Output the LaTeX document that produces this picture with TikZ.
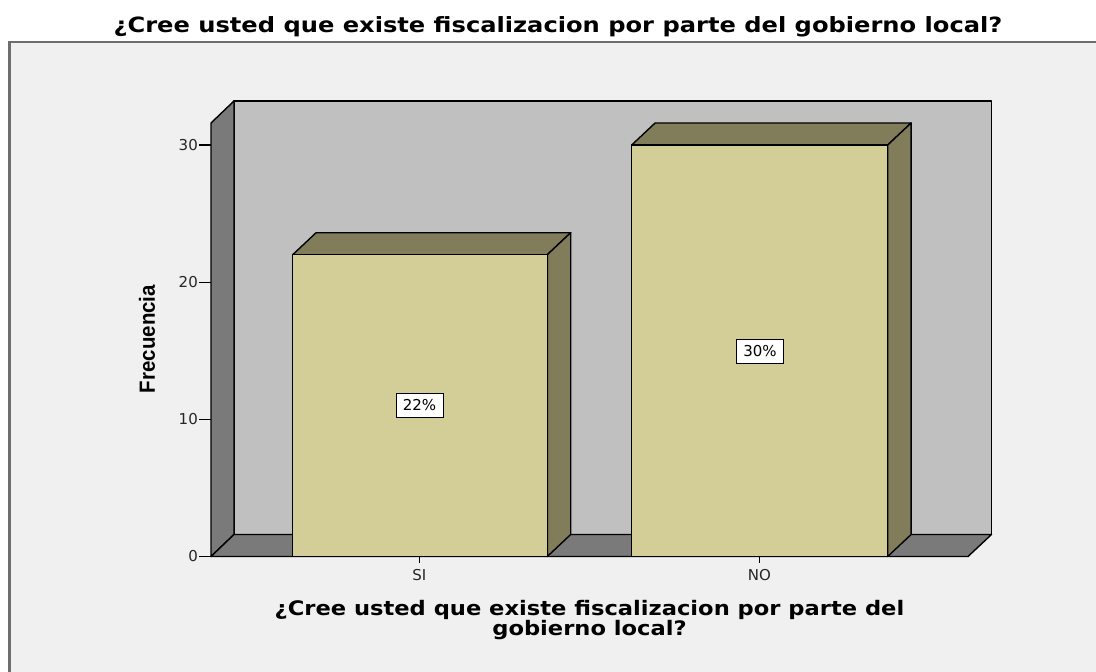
\documentclass[tikz,border=0pt]{standalone}
\usepackage{fontspec}
\setmainfont{DejaVu Sans}
\newfontfamily\arialfont{Liberation Sans}
\usetikzlibrary{calc}
\definecolor{panelbg}{RGB}{240,240,240}
\definecolor{framecol}{RGB}{110,110,110}
\definecolor{wallback}{RGB}{192,192,192}
\definecolor{walldark}{RGB}{122,122,122}
\definecolor{barfront}{RGB}{211,206,151}
\definecolor{barside}{RGB}{129,125,90}
\tikzset{
  face/.style={draw=black, line width=1.4bp, line join=round},
  tick/.style={draw=black, line width=1.2bp},
  ticklabel/.style={font=\fontsize{15bp}{18bp}\selectfont, inner sep=0pt, text=black!85},
  pctbox/.style={draw=black, line width=1bp, fill=white, font=\fontsize{15bp}{18bp}\selectfont, minimum width=47bp, minimum height=24bp, inner sep=1bp},
  titletext/.style={font=\fontsize{21bp}{25bp}\bfseries\selectfont, inner sep=0pt, xscale=1.15},
  axistext/.style={font=\fontsize{20bp}{20bp}\bfseries\selectfont, inner sep=0pt, xscale=1.13},
}
\begin{document}
\begin{tikzpicture}[x=1bp,y=-1bp]
\useasboundingbox (0,0) rectangle (1096,672);
\clip (0,0) rectangle (1096,672);
\fill[white] (0,0) rectangle (1096,672);
% outer panel (extends beyond right and bottom edges)
\draw[fill=panelbg, draw=framecol, line width=2.5bp] (9.5,42) rectangle (1110,690);

% 3D frame geometry
\coordinate (A) at (211,556.5);   % front bottom left
\coordinate (B) at (211,123);     % front top left
\coordinate (C) at (234,101);     % back top left
\coordinate (D) at (234,534.5);   % back bottom left
\coordinate (E) at (991.5,101);   % back top right
\coordinate (F) at (991.5,534.5); % back bottom right
\coordinate (G) at (968,556.5);   % front bottom right

% back wall
\filldraw[face, fill=wallback] (C) -- (E) -- (F) -- (D) -- cycle;
% left wall
\filldraw[face, fill=walldark] (A) -- (B) -- (C) -- (D) -- cycle;
% floor
\filldraw[face, fill=walldark] (A) -- (D) -- (F) -- (G) -- cycle;

% bar SI (value 22)
\coordinate (s1) at (292.7,556.5);
\coordinate (s2) at (547.3,556.5);
\coordinate (s3) at (547.3,254.7);
\coordinate (s4) at (292.7,254.7);
\filldraw[face, fill=barside] (s4) -- (s3) -- ($(s3)+(23.4,-22)$) -- ($(s4)+(23.4,-22)$) -- cycle;
\filldraw[face, fill=barside] (s2) -- (s3) -- ($(s3)+(23.4,-22)$) -- ($(s2)+(23.4,-22)$) -- cycle;
\filldraw[face, fill=barfront] (s1) -- (s2) -- (s3) -- (s4) -- cycle;

% bar NO (value 30)
\coordinate (n1) at (631.7,556.5);
\coordinate (n2) at (887.7,556.5);
\coordinate (n3) at (887.7,145);
\coordinate (n4) at (631.7,145);
\filldraw[face, fill=barside] (n4) -- (n3) -- ($(n3)+(23.4,-22)$) -- ($(n4)+(23.4,-22)$) -- cycle;
\filldraw[face, fill=barside] (n2) -- (n3) -- ($(n3)+(23.4,-22)$) -- ($(n2)+(23.4,-22)$) -- cycle;
\filldraw[face, fill=barfront] (n1) -- (n2) -- (n3) -- (n4) -- cycle;

% front axis line
\draw[tick] (A) -- (G);

% y ticks and labels
\foreach \v/\yy in {0/556.5,10/419.3,20/282.1,30/145} {
  \coordinate (yt\v) at (211,\yy);
  \coordinate (ye\v) at (199,\yy);
  \draw[tick] (yt\v) -- (ye\v);
  \node[ticklabel, anchor=east] (yl\v) at (198,\yy) {\v};
}

% x ticks and labels
\coordinate (xsi) at (419.3,556.5);
\coordinate (xsie) at (419.3,563);
\draw[tick] (xsi) -- (xsie);
\node[ticklabel] (lsi) at (419.3,575) {SI};
\coordinate (xno) at (759.5,556.5);
\coordinate (xnoe) at (759.5,563);
\draw[tick] (xno) -- (xnoe);
\node[ticklabel] (lno) at (759.5,575) {NO};

% percentage labels
\node[pctbox] (p22) at (419.5,405.5) {22\%};
\node[pctbox] (p30) at (760,351) {30\%};

% titles
\node[titletext, anchor=base] (title) at (558,33) {¿Cree usted que existe fiscalizacion por parte del gobierno local?};
\node[axistext, anchor=base] (xl1) at (589.5,615) {¿Cree usted que existe fiscalizacion por parte del};
\node[axistext, anchor=base] (xl2) at (589.5,635) {gobierno local?};
\node[font=\fontsize{22bp}{22bp}\arialfont\bfseries\selectfont, inner sep=0pt, rotate=90, xscale=0.93] (ylab) at (147,339) {Frecuencia};
\end{tikzpicture}
\end{document}
